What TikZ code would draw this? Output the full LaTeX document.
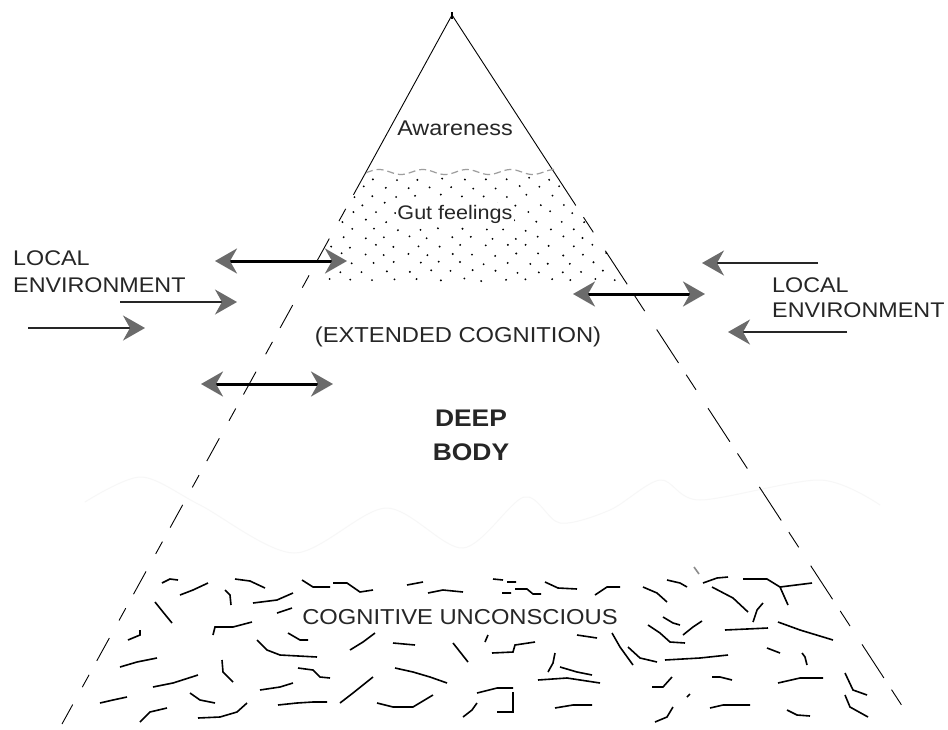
\documentclass[tikz,border=0pt]{standalone}
\usepackage{fontspec}
\usepackage{tikz}
\usetikzlibrary{arrows.meta}
\newfontfamily\diagfont[FakeStretch=1.1]{Liberation Sans}
\definecolor{headgray}{gray}{0.42}
\definecolor{wavegray}{gray}{0.62}
\tikzset{
  gtip/.tip={Stealth[length=22pt,width=25pt,inset=7pt,color=headgray]},
  twoway/.style={line width=3pt, black, gtip-gtip},
  oneway/.style={line width=1.4pt, black!85, -gtip},
  side/.style={line width=0.9pt, black},
  scrawl/.style={line width=1.6pt, black, line join=miter},
  envtext/.style={font=\diagfont\fontsize{21.2}{25}\selectfont, text=black!85, inner sep=0pt, anchor=base west},
  lvltext/.style={font=\diagfont\fontsize{21.3}{25}\selectfont, text=black!85, inner sep=0pt, anchor=base}
}
\newcommand{\exchange}[2] {\draw [twoway] (#1) -- (#2);}
\newcommand{\inflow}[2] {\draw [oneway] (#1) -- (#2);}

\begin{document}
\begin{tikzpicture}[x=1pt,y=-1pt]
\useasboundingbox (0,0) rectangle (948,729);
\fill [white] (0,0) rectangle (948,729);

% pyramid corners
\coordinate (apex) at (452,15);
\coordinate (lw) at (366,172);
\coordinate (rw) at (554,172);
\coordinate (lb) at (62,724);
\coordinate (rb) at (910,718);

% faint trace behind the deep body
\draw [black!3, line width=1pt] plot [smooth] coordinates {(85,502) (141,477) (200,505) (294,553) (386,508) (463,548) (524,497) (560,523) (610,510) (660,480) (700,500) (820,480) (880,505)};

% stippled band of gut feelings
\begin{scope}
\clip (apex) -- (lb) -- (rb) -- cycle;
\clip (0,176) rectangle (948,284);
\pgfmathsetseed{11}
\foreach \r in {0,...,12} {
  \foreach \c in {0,...,13} {
    \fill ({330+\c*22+mod(\r,2)*11+3*rand},{179+\r*8.4+1.5*rand}) circle (1.05);
  }
}
\end{scope}

% sides
\draw [side] (lw) -- (apex) -- (rw);
\draw [line width=2pt] (452,12) -- (452,19);
\draw [side, dash pattern=on 26pt off 16pt on 14pt off 20pt] (lw) -- (lb);
\draw [side, dash pattern=on 40pt off 14pt on 18pt off 22pt] (rw) -- (rb);

% border of awareness
\draw [wavegray, line width=1.2pt, dash pattern=on 7pt off 4pt] plot [domain=366:554, samples=90] (\x,{172+2.5*sin((\x-390)*8.2)});

% cognitive unconscious
\draw [scrawl] (162,583)--(170,579)--(178,580) (180,595)--(193,590)--(208,583) (225,590)--(230,595)--(231,605) (235,579)--(250,581)--(265,588) (253,603)--(277,600)--(293,593) (277,613)--(292,608) (155,602)--(163,612)--(172,623);
\draw [scrawl] (302,580)--(313,587)--(330,587) (333,583)--(347,583)--(360,592)--(373,590) (407,585)--(423,582) (428,593)--(443,590)--(463,592) (493,579)--(503,580) (507,582)--(516,582) (502,593)--(511,593) (515,589)--(527,589)--(533,594)--(541,594);
\draw [scrawl] (545,582)--(558,588)--(577,589) (595,595)--(607,587)--(620,587) (643,587)--(657,593)--(667,602) (667,580)--(680,583)--(687,587) (703,583)--(717,578)--(728,577) (712,587)--(733,598)--(748,612) (743,579)--(767,579)--(780,587)--(812,583) (780,587)--(788,605) (763,603)--(757,610)--(753,622);
\draw [scrawl, black!45] (694,567)--(699,574);
\draw [scrawl] (663,617)--(673,623)--(680,625) (648,625)--(660,633)--(670,642)--(685,643) (683,635)--(693,627)--(702,621) (725,630)--(747,629)--(768,628) (778,622)--(800,630)--(833,640) (577,635)--(597,638) (492,653)--(513,652)--(515,645)--(535,642);
\draw [scrawl] (612,633)--(620,647)--(633,665) (628,647)--(640,658)--(657,662) (665,660)--(700,658)--(728,655) (555,653)--(553,663)--(548,672) (560,667)--(577,672)--(592,675) (538,680)--(567,678)--(600,683) (767,648)--(780,653) (802,653)--(805,657)--(807,665);
\draw [scrawl] (652,687)--(663,687)--(672,677) (712,677)--(720,677)--(732,680) (778,683)--(800,678)--(823,678) (845,673)--(853,690)--(867,695) (555,708)--(573,705)--(592,705) (655,722)--(667,717)--(673,707) (687,697)--(690,694) (710,708)--(723,705)--(750,705) (787,710)--(797,715)--(810,716) (845,695)--(850,707)--(868,717);
\draw [scrawl] (213,635)--(215,627)--(233,627)--(252,622) (128,640)--(140,635)--(140,630) (288,633)--(300,640)--(308,640) (257,640)--(267,650)--(280,655)--(317,657) (350,650)--(363,642)--(375,633) (393,643)--(415,645) (453,643)--(468,662) (488,635)--(485,642);
\draw [scrawl] (120,667)--(137,662)--(157,658) (222,660)--(223,672)--(233,682) (298,668)--(313,670)--(320,677)--(330,678) (395,668)--(413,672)--(430,677)--(447,683) (153,687)--(173,683)--(198,675) (260,690)--(280,687)--(293,683) (340,703)--(353,693)--(373,677);
\draw [scrawl] (100,703)--(113,700)--(127,697) (190,693)--(200,700)--(215,703) (278,705)--(297,703)--(313,702)--(327,702) (377,703)--(393,707)--(413,707)--(433,695) (477,693)--(497,688)--(513,688) (513,692)--(513,712)--(497,712) (140,722)--(150,712)--(167,708) (198,718)--(220,717)--(237,712)--(247,703) (463,717)--(472,710)--(477,703);

% levels
\node [lvltext] (aware) at (455,135) {Awareness};
\node [lvltext, font=\diagfont\fontsize{19.6}{24}\selectfont, fill=white, inner sep=1.5pt] (gut) at (455,219) {Gut feelings};
\node [lvltext, font=\diagfont\fontsize{21.6}{25}\selectfont] (extended) at (458,342) {(EXTENDED\hspace{0.3em}COGNITION)};
\node [font=\diagfont\bfseries\fontsize{24}{34}\selectfont, text=black!85, inner sep=0pt, align=center] (deep) at (471,435.5) {DEEP\\BODY};
\node [lvltext, font=\diagfont\fontsize{21.6}{25}\selectfont] (uncon) at (460,624) {COGNITIVE UNCONSCIOUS};

% local environment, left and right
\node [envtext] (envla) at (13,265) {LOCAL};
\node [envtext] (envlb) at (13,292) {ENVIRONMENT};
\node [envtext] (envra) at (772,292) {LOCAL};
\node [envtext] (envrb) at (772,317) {ENVIRONMENT};

% arrow ends
\coordinate (xa1) at (215,261);
\coordinate (xa2) at (347,261);
\coordinate (xb1) at (201,384);
\coordinate (xb2) at (333,384);
\coordinate (xc1) at (573,294);
\coordinate (xc2) at (705,294);
\coordinate (ia1) at (120,302);
\coordinate (ia2) at (237,302);
\coordinate (ib1) at (28,328);
\coordinate (ib2) at (145,328);
\coordinate (ic1) at (818,263);
\coordinate (ic2) at (702,263);
\coordinate (id1) at (847,332);
\coordinate (id2) at (728,332);

\exchange{xa1}{xa2};
\exchange{xb1}{xb2};
\exchange{xc1}{xc2};
\inflow{ia1}{ia2};
\inflow{ib1}{ib2};
\inflow{ic1}{ic2};
\inflow{id1}{id2};
\end{tikzpicture}
\end{document}
